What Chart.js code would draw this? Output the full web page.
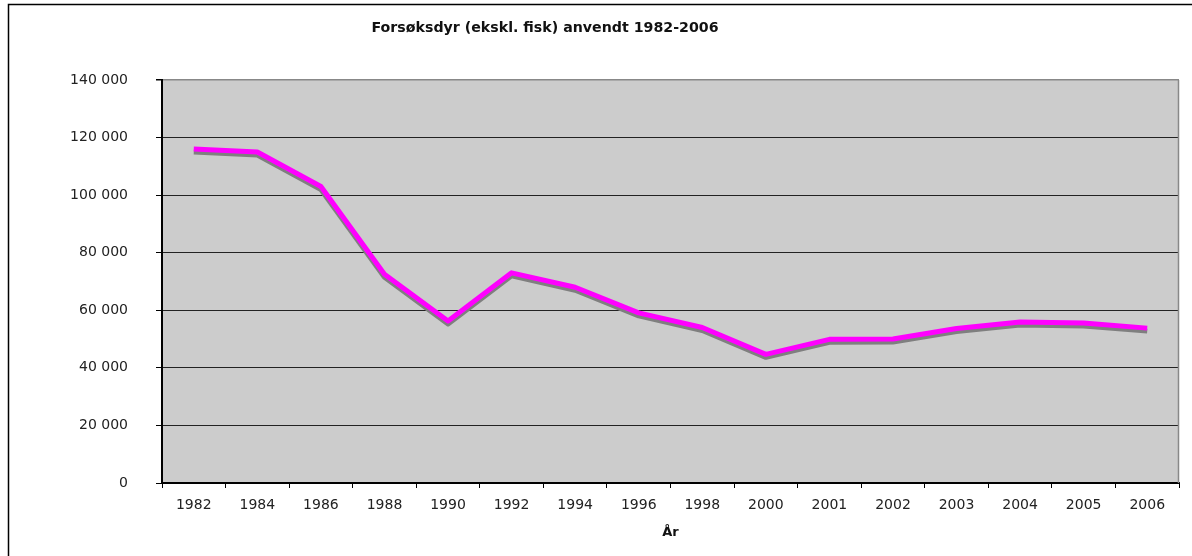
<!DOCTYPE html>
<html lang="no">
<head>
<meta charset="UTF-8" />
<title>Forsøksdyr (ekskl. fisk) anvendt 1982-2006</title>
<script src="https://cdn.jsdelivr.net/npm/chart.js@4.4.1"></script>
<style>
  html, body { margin:0; padding:0; background:#fff; overflow:hidden; }
  #wrap { width:1192px; height:556px; }
</style>
</head>
<body>
<div id="wrap"><canvas id="myChart" width="1192" height="556"></canvas></div>

<script>
  // data
  var years   = ['1982','1984','1986','1988','1990','1992','1994','1996','1998','2000',
                 '2001','2002','2003','2004','2005','2006'];
  var animals = [116000,115000,103000,72500,56300,73000,68000,59100,54000,44700,
                 49900,50000,53700,55900,55600,53800];
  var yMax  = 140000;
  var yStep = 20000;

  var TITLE = 'Forsøksdyr (ekskl. fisk) anvendt 1982-2006';
  var FONT  = '"DejaVu Sans", Verdana, sans-serif';

  function fmt(v){ return String(v).replace(/\B(?=(\d{3})+(?!\d))/g, ' '); }

  // frame, grey plot area, title
  var deco = {
    id:'deco',
    beforeDraw:function(c){
      var x = c.ctx, a = c.chartArea;
      x.save();
      x.fillStyle = '#fff';
      x.fillRect(0,0,c.width,c.height);
      x.strokeStyle = '#000'; x.lineWidth = 1.5;
      x.strokeRect(8.5,4.5,1400,800);
      x.fillStyle = '#cccccc';
      x.fillRect(a.left,a.top,a.right-a.left,a.bottom-a.top);
      x.fillStyle = '#111';
      x.font = 'bold 14.2px '+FONT;
      x.textAlign = 'center'; x.textBaseline = 'middle';
      x.fillText(TITLE, 545, 28);
      x.restore();
    },
    beforeDatasetsDraw:function(c){
      var x = c.ctx, a = c.chartArea;
      x.save();
      x.strokeStyle = '#888'; x.lineWidth = 1.5;
      x.beginPath(); x.moveTo(a.right-0.5,a.top); x.lineTo(a.right-0.5,a.bottom); x.stroke();
      x.restore();
    },
    beforeDatasetDraw:function(c){
      var x = c.ctx;
      x.save();
      x.shadowColor = '#7f7f7f';
      x.shadowOffsetX = 0;
      x.shadowOffsetY = 3;
      x.shadowBlur = 0;
    },
    afterDatasetDraw:function(c){ c.ctx.restore(); }
  };

  new Chart(document.getElementById('myChart'), {
    type:'line',
    data:{
      labels:years,
      datasets:[{
        label:'Forsøksdyr',
        data:animals,
        borderColor:'#ff00ff',
        borderWidth:5,
        borderJoinStyle:'round',
        tension:0,
        pointRadius:0,
        fill:false
      }]
    },
    options:{
      responsive:false,
      animation:false,
      layout:{ padding:{ top:80, right:13, left:0, bottom:0 } },
      plugins:{ legend:{display:false}, tooltip:{enabled:false}, title:{display:false} },
      scales:{
        x:{
          offset:true,
          grid:{ offset:true, drawOnChartArea:false, drawTicks:true, tickLength:5, tickColor:'#000', lineWidth:1 },
          border:{ color:'#000', width:2 },
          ticks:{ color:'#222', font:{ family:FONT, size:14 }, padding:9, maxRotation:0, autoSkip:false },
          title:{ display:true, text:'År', color:'#111',
                  font:{ family:FONT, size:13, weight:'bold', lineHeight:1.2 },
                  padding:{ top:0, bottom:16 } },
          afterFit:function(s){ s.height = 73; }
        },
        y:{
          min:0, max:yMax,
          grid:{
            color:function(ctx){ return ctx.tick && ctx.tick.value === yMax ? '#888' : '#222'; },
            lineWidth:function(ctx){ return ctx.tick && ctx.tick.value === yMax ? 1.5 : 1; },
            tickColor:'#000', tickLength:6
          },
          border:{ color:'#000', width:2 },
          ticks:{ stepSize:yStep, color:'#222', font:{ family:FONT, size:14 }, padding:28,
                  callback:function(v){ return fmt(v); } },
          afterFit:function(s){ s.width = 162; }
        }
      }
    },
    plugins:[deco]
  });
</script>
</body>
</html>
